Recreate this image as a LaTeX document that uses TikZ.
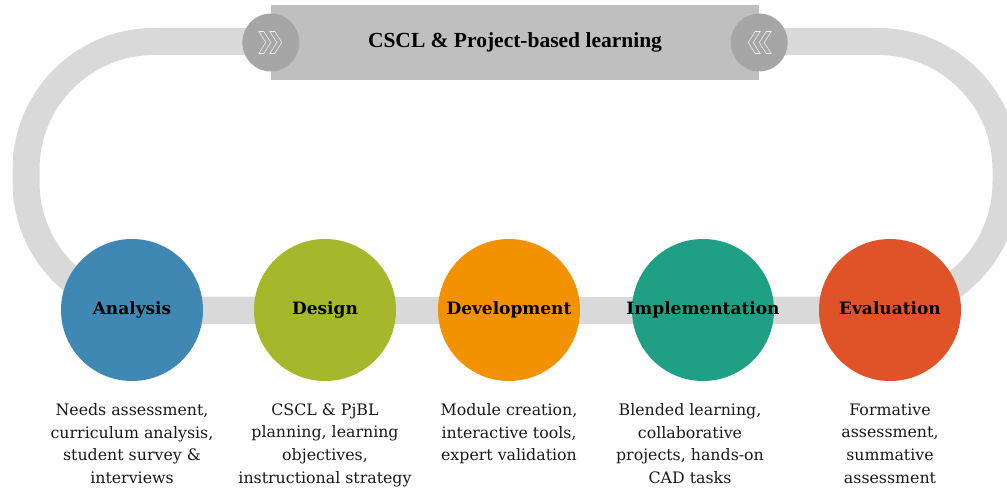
\documentclass[tikz,border=0pt]{standalone}
\usepackage{fontspec}
\setmainfont{DejaVu Serif}
\newfontfamily\titlefont{Liberation Serif}
\usetikzlibrary{shapes.geometric, positioning, backgrounds}
\definecolor{TrackGray}{HTML}{D9D9D9}
\definecolor{BoxGray}{HTML}{BFBFBF}
\definecolor{CapGray}{HTML}{A6A6A6}
\definecolor{PhaseBlue}{HTML}{3F88B4}
\definecolor{PhaseOlive}{HTML}{A5B72A}
\definecolor{PhaseOrange}{HTML}{F39200}
\definecolor{PhaseTeal}{HTML}{1FA085}
\definecolor{PhaseRed}{HTML}{E05328}
\tikzset{
    % loop behind the phases
    track/.style={
        draw=TrackGray,
        line width=27pt,
        rounded corners=128pt
    },
    banner/.style={
        rectangle,
        fill=BoxGray,
        minimum width=488pt,
        minimum height=75pt,
        align=center,
        font=\titlefont\bfseries\fontsize{21.5}{24}\selectfont
    },
    endcap/.style={
        ellipse,
        fill=CapGray,
        minimum width=57pt,
        minimum height=58pt,
        inner sep=0pt
    },
    chevron/.style={
        draw=white!80!CapGray,
        line width=0.6pt,
        line join=miter
    },
    % phase discs
    phase/.style={
        circle,
        minimum size=142pt,
        inner sep=0pt
    },
    phaselabel/.style={
        inner sep=0pt,
        text height=12.5pt,
        text depth=4pt,
        font=\bfseries\fontsize{17}{20}\selectfont
    },
    desc/.style={
        align=center,
        inner sep=0pt,
        text=black!90,
        font=\fontsize{15.8}{22.7}\selectfont
    }
}
\begin{document}
\begin{tikzpicture}[x=1pt, y=-1pt]
    \useasboundingbox (0,0) rectangle (1007,489);

    \node[phase, fill=PhaseBlue, label={[phaselabel]center:Analysis}] (ana) at (132,310) {};
    \node[phase, fill=PhaseOlive, label={[phaselabel]center:Design}] (des) at (325,310) {};
    \node[phase, fill=PhaseOrange, label={[phaselabel]center:Development}] (dev) at (509,310) {};
    \node[phase, fill=PhaseTeal, label={[phaselabel]center:Implementation}] (imp) at (703,310) {};
    \node[phase, fill=PhaseRed, label={[phaselabel]center:Evaluation}] (eva) at (890,310) {};

    \node[desc, below=22pt of ana] (anatxt) {Needs assessment,\\curriculum analysis,\\student survey \&\\interviews};
    \node[desc, below=22pt of des] (destxt) {CSCL \& PjBL\\planning, learning\\objectives,\\instructional strategy};
    \node[desc, below=22pt of dev] (devtxt) {Module creation,\\interactive tools,\\expert validation};
    \node[desc, below=22pt of imp, xshift=-13pt] (imptxt) {Blended learning,\\collaborative\\projects, hands-on\\CAD tasks};
    \node[desc, below=22pt of eva] (evatxt) {Formative\\assessment,\\summative\\assessment};

    \coordinate (lt) at (26,41.5);
    \coordinate (rt) at (1006,41.5);

    \begin{scope}[on background layer]
        \draw[track] (imp.center) -| (rt) -- (lt) |- (des.center);
        \draw[track] (ana) -- (eva);
        \node[banner] (title) at (515,42.5) {CSCL \& Project-based learning};
        \node[endcap] (capl) at (title.west) {};
        \node[endcap] (capr) at (title.east) {};
    \end{scope}

    \foreach \dx in {-12,-1}
        \draw[chevron] ([xshift=\dx pt]capl.center) ++(0,-11) -- ++(5,0) -- ++(7,11) -- ++(-7,11) -- ++(-5,0) -- ++(7,-11) -- cycle;
    \foreach \dx in {12,1}
        \draw[chevron] ([xshift=\dx pt]capr.center) ++(0,-11) -- ++(-5,0) -- ++(-7,11) -- ++(7,11) -- ++(5,0) -- ++(-7,-11) -- cycle;
\end{tikzpicture}
\end{document}
